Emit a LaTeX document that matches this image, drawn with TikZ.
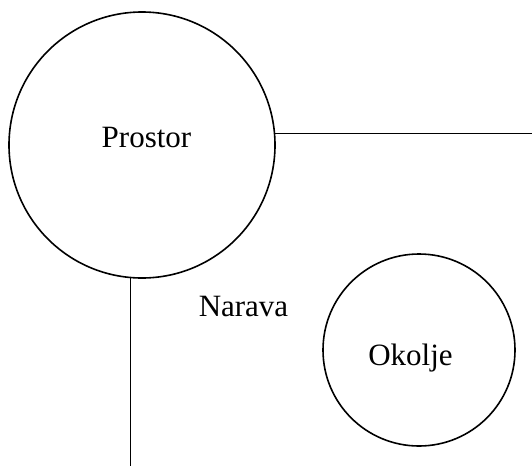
\documentclass[tikz,border=0pt]{standalone}
\usepackage{fontspec}
\setmainfont{Liberation Serif}
\usetikzlibrary{calc}

\begin{document}
\begin{tikzpicture}[x=1pt,y=-1pt]
	\useasboundingbox (0,0) rectangle (532,466);
	\begin{scope}[every node/.style={circle,draw=black,line width=1.6pt,inner sep=0pt}]
		\node[minimum size=266pt] (prostor) at (142,145) {};
		\node[minimum size=192pt] (okolje) at (419,350) {};
	\end{scope}

	\begin{scope}[every node/.style={anchor=base,inner sep=0pt,font=\fontsize{31}{37}\selectfont}]
		\node (tprostor) at (146.5,147.5) {Prostor};
		\node (tnarava) at (243.5,316.5) {Narava};
		\node (tokolje) at (410.5,365) {Okolje};
	\end{scope}

	\coordinate (desno) at (532,133);
	\coordinate (spodaj) at (130,466);
	\begin{scope}[line width=1.6pt]
		\draw (prostor.5) -- (prostor.5 -| desno);
		\draw (prostor.265) -- (prostor.265 |- spodaj);
	\end{scope}
\end{tikzpicture}
\end{document}
